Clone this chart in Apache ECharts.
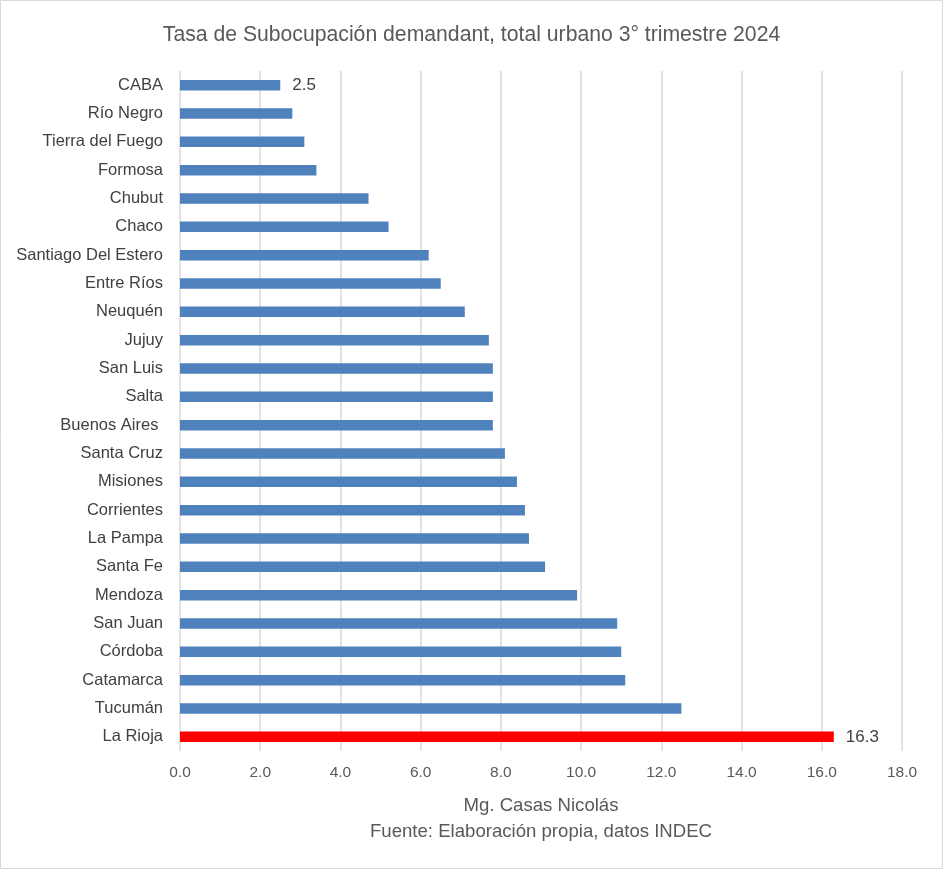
<!DOCTYPE html>
<html>
<head>
<meta charset="utf-8">
<script src="https://cdn.jsdelivr.net/npm/echarts@6/dist/echarts.min.js"></script>
<style>html,body{margin:0;padding:0;background:#fff;}#c{width:943px;height:869px;}</style>
</head>
<body>
<div id="c"></div>
<script>
const categories = ["CABA","Río Negro","Tierra del Fuego","Formosa","Chubut","Chaco","Santiago Del Estero","Entre Ríos","Neuquén","Jujuy","San Luis","Salta","Buenos Aires ","Santa Cruz","Misiones","Corrientes","La Pampa","Santa Fe","Mendoza","San Juan","Córdoba","Catamarca","Tucumán","La Rioja"];
const values = [2.5,2.8,3.1,3.4,4.7,5.2,6.2,6.5,7.1,7.7,7.8,7.8,7.8,8.1,8.4,8.6,8.7,9.1,9.9,10.9,11.0,11.1,12.5,16.3];
const labeled = ["CABA","La Rioja"];
const highlighted = ["La Rioja"];
const xTicks = {min:0, max:18, interval:2};

const FONT = "Liberation Sans";
const data = values.map((v,i)=>({
  value:v,
  itemStyle:{color: highlighted.includes(categories[i]) ? "#FF0000" : "#4F81BD"},
  label:{show: labeled.includes(categories[i])}
}));

const chart = echarts.init(document.getElementById('c'));
chart.setOption({
  animation:false,
  backgroundColor:"#fff",
  textStyle:{fontFamily:FONT},
  title:{
    text:"Tasa de Subocupación demandant, total urbano 3° trimestre 2024",
    left:"center", top:20,
    textStyle:{fontFamily:FONT, fontSize:21.2, fontWeight:"normal", color:"#595959"}
  },
  graphic:[{type:"rect", shape:{x:0.5,y:0.5,width:942,height:868}, style:{fill:null, stroke:"#d9d9d9", lineWidth:1}, silent:true}],
  grid:{left:180, right:41, top:71, height:680, containLabel:false},
  xAxis:{
    type:"value", min:xTicks.min, max:xTicks.max, interval:xTicks.interval,
    axisLine:{show:false}, axisTick:{show:false},
    splitLine:{show:true, lineStyle:{color:"#d9d9d9", width:1.5}},
    axisLabel:{formatter:v=>v.toFixed(1), color:"#595959", fontSize:15.5, fontFamily:FONT, margin:14},
    name:"Mg. Casas Nicolás\nFuente: Elaboración propia, datos INDEC",
    nameLocation:"middle", nameGap:42,
    nameTextStyle:{color:"#595959", fontSize:18.6, fontFamily:FONT, lineHeight:26, verticalAlign:"top"}
  },
  yAxis:{
    type:"category", data:categories, inverse:true,
    axisLine:{show:false}, axisTick:{show:false},
    axisLabel:{color:"#404040", fontSize:16.5, fontFamily:FONT, margin:17}
  },
  series:[{
    type:"bar", data:data, barWidth:10.5,
    label:{position:"right", distance:12, formatter:p=>p.value.toFixed(1), color:"#404040", fontSize:17, fontFamily:FONT}
  }]
});
</script>
</body>
</html>
